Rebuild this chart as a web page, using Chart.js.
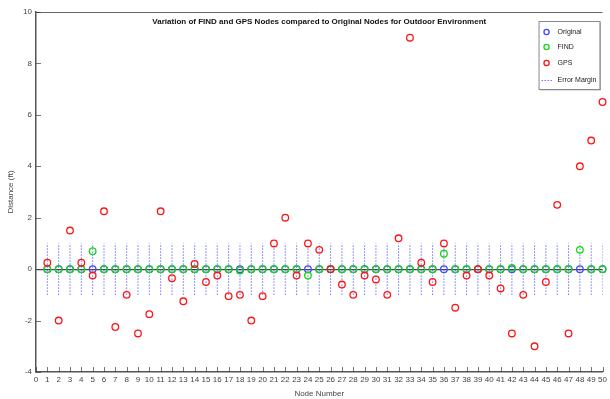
<!DOCTYPE html>
<html>
<head>
<meta charset="utf-8">
<title>FIND vs GPS - Outdoor</title>
<script src="https://cdn.jsdelivr.net/npm/chart.js@4.4.0/dist/chart.umd.min.js"></script>
<style>
  html, body { margin: 0; padding: 0; background: #fff; }
  #wrap { width: 610px; height: 399px; }
</style>
</head>
<body>
<div id="wrap"><canvas id="myChart"></canvas></div>
<script>
// node numbers along the x axis
const nodes = [1, 2, 3, 4, 5, 6, 7, 8, 9, 10, 11, 12, 13, 14, 15, 16, 17, 18, 19, 20,
    21, 22, 23, 24, 25, 26, 27, 28, 29, 30, 31, 32, 33, 34, 35, 36, 37, 38, 39, 40,
    41, 42, 43, 44, 45, 46, 47, 48, 49, 50];

// distance from the original node position (ft)
const originalDist = [0, 0, 0, 0, 0, 0, 0, 0, 0, 0, 0, 0, 0, 0, 0, 0, 0, 0, 0, 0,
    0, 0, 0, 0, 0, 0, 0, 0, 0, 0, 0, 0, 0, 0, 0, 0, 0, 0, 0, 0,
    0, 0, 0, 0, 0, 0, 0, 0, 0, 0];
const findDist = [0, 0, 0, 0, 0.7, 0, 0, 0, 0, 0, 0, 0, 0, 0, 0, 0, 0, -0.05, 0, 0,
    0, 0, 0, -0.25, 0, 0, 0, 0, 0, 0, 0, 0, 0, 0, 0, 0.6, 0, 0, 0, 0,
    0, 0.05, 0, 0, 0, 0, 0, 0.75, 0, 0];
const gpsDist = [0.25, -2, 1.5, 0.25, -0.25, 2.25, -2.25, -1, -2.5, -1.75,
    2.25, -0.35, -1.25, 0.2, -0.5, -0.25, -1.05, -1, -2, -1.05,
    1, 2, -0.25, 1, 0.75, 0, -0.6, -1, -0.25, -0.4,
    -1, 1.2, 9, 0.25, -0.5, 1, -1.5, -0.25, 0, -0.25,
    -0.75, -2.5, -1, -3, -0.5, 2.5, -2.5, 4, 5, 6.5];

// +/- allowed error around each original node (ft)
const errorMargin = 1;

const xTicks = [0, 50];
const yTicks = [-4, 10];

const FONT = "'Liberation Sans Narrow', 'Liberation Sans', Arial, sans-serif";
const BLUE = 'rgb(70, 70, 255)';
const GREEN = 'rgb(20, 215, 20)';
const RED = 'rgb(255, 20, 20)';
const ERR = 'rgba(40, 40, 255, 0.65)';

const toPoints = vals => nodes.map((n, i) => ({x: n, y: vals[i]}));

// error margin drawn as one broken line: low, high, gap for every node
const errPoints = [];
for (const n of nodes) {
    errPoints.push({x: n, y: -errorMargin});
    errPoints.push({x: n, y: errorMargin});
    errPoints.push({x: n, y: null});
}

const marker = color => ({
    showLine: false,
    pointStyle: 'circle',
    pointRadius: 3.3,
    pointHoverRadius: 3.3,
    pointBorderWidth: 1.3,
    borderColor: color,
    pointBorderColor: color,
    pointBackgroundColor: 'rgba(0,0,0,0)',
    backgroundColor: 'rgba(0,0,0,0)',
    clip: 6
});

const chartData = {
    datasets: [
        Object.assign({label: 'Original', data: toPoints(originalDist), order: 3}, marker(BLUE)),
        Object.assign({label: 'FIND', data: toPoints(findDist), order: 2}, marker(GREEN)),
        Object.assign({label: 'GPS', data: toPoints(gpsDist), order: 1}, marker(RED)),
        {
            label: 'Error Margin',
            data: errPoints,
            showLine: true,
            spanGaps: false,
            pointRadius: 0,
            borderColor: ERR,
            borderWidth: 1,
            borderDash: [1.5, 1.5],
            order: 4
        }
    ]
};

// title + boxed legend inside the plot, inward tick marks
const decorations = {
    id: 'decorations',
    afterDraw(chart) {
        const ctx = chart.ctx;
        const area = chart.chartArea;
        const xs = chart.scales.x;
        const ys = chart.scales.y;
        ctx.save();

        // top frame line
        ctx.strokeStyle = '#666';
        ctx.lineWidth = 1;
        ctx.beginPath();
        ctx.moveTo(area.left, area.top + 0.5);
        ctx.lineTo(area.right, area.top + 0.5);
        ctx.stroke();

        // inward ticks
        ctx.strokeStyle = 'rgba(60,60,60,0.7)';
        for (let v = xTicks[0]; v <= xTicks[1]; v++) {
            const px = Math.round(xs.getPixelForValue(v)) + 0.5;
            ctx.beginPath();
            ctx.moveTo(px, area.bottom);
            ctx.lineTo(px, area.bottom - 5);
            ctx.stroke();
        }
        for (let v = yTicks[0]; v <= yTicks[1]; v += 2) {
            const py = Math.round(ys.getPixelForValue(v)) + 0.5;
            ctx.beginPath();
            ctx.moveTo(area.left, py);
            ctx.lineTo(area.left + 5, py);
            ctx.stroke();
        }

        // title
        ctx.fillStyle = '#111';
        ctx.font = 'bold 8px ' + FONT;
        ctx.textAlign = 'center';
        ctx.textBaseline = 'middle';
        ctx.fillText('Variation of FIND and GPS Nodes compared to Original Nodes for Outdoor Environment',
            (area.left + area.right) / 2, area.top + 10);

        // legend box
        const bx = area.right - 64, by = area.top + 9, bw = 61, bh = 68;
        ctx.fillStyle = '#bbb';
        ctx.fillRect(bx + 1.5, by + 1.5, bw, bh);
        ctx.fillStyle = '#fff';
        ctx.fillRect(bx, by, bw, bh);
        ctx.strokeStyle = '#888';
        ctx.strokeRect(bx + 0.5, by + 0.5, bw, bh);

        ctx.font = '7px ' + FONT;
        ctx.textAlign = 'left';
        ctx.fillStyle = '#222';
        const items = chartData.datasets;
        const rows = [by + 11, by + 26, by + 42, by + 59];
        items.forEach((ds, i) => {
            const y = rows[i];
            if (ds.showLine) {
                ctx.strokeStyle = ERR;
                ctx.setLineDash([1.5, 1.5]);
                ctx.beginPath();
                ctx.moveTo(bx + 3, y + 0.5);
                ctx.lineTo(bx + 14, y + 0.5);
                ctx.stroke();
                ctx.setLineDash([]);
            } else {
                ctx.strokeStyle = ds.borderColor;
                ctx.lineWidth = 1.3;
                ctx.beginPath();
                ctx.arc(bx + 8, y, 2.6, 0, Math.PI * 2);
                ctx.stroke();
                ctx.lineWidth = 1;
            }
            ctx.fillStyle = '#222';
            ctx.fillText(ds.label, bx + 19, y);
        });
        ctx.restore();
    }
};

const config = {
    type: 'scatter',
    data: chartData,
    options: {
        responsive: true,
        maintainAspectRatio: false,
        animation: false,
        layout: {padding: {top: 12, right: 4, left: 0, bottom: 0}},
        plugins: {
            legend: {display: false},
            tooltip: {enabled: false}
        },
        scales: {
            x: {
                type: 'linear',
                min: xTicks[0],
                max: xTicks[1],
                afterFit: scale => { scale.height = 27; },
                ticks: {
                    stepSize: 1,
                    autoSkip: false,
                    maxRotation: 0,
                    padding: 3,
                    color: '#444',
                    font: {family: FONT, size: 8}
                },
                grid: {display: true, drawTicks: false, color: 'rgba(0,0,0,0)'},
                border: {display: true, color: '#555', width: 1.5},
                title: {
                    display: true,
                    text: 'Node Number',
                    color: '#444',
                    padding: 0,
                    font: {family: FONT, size: 8}
                }
            },
            y: {
                type: 'linear',
                min: yTicks[0],
                max: yTicks[1],
                afterFit: scale => { scale.width = 36; },
                ticks: {
                    stepSize: 2,
                    padding: 4,
                    color: '#444',
                    font: {family: FONT, size: 8}
                },
                grid: {
                    drawTicks: false,
                    color: ctx => ctx.tick && ctx.tick.value === 0 ? 'rgba(50,50,50,0.9)' : 'rgba(0,0,0,0)',
                    lineWidth: 1.2
                },
                border: {display: true, color: '#555', width: 1.5},
                title: {
                    display: true,
                    text: 'Distance (ft)',
                    color: '#444',
                    padding: {top: 6, bottom: 0},
                    font: {family: FONT, size: 8}
                }
            }
        }
    },
    plugins: [decorations]
};

const myChart = new Chart(document.getElementById('myChart'), config);
</script>
</body>
</html>
